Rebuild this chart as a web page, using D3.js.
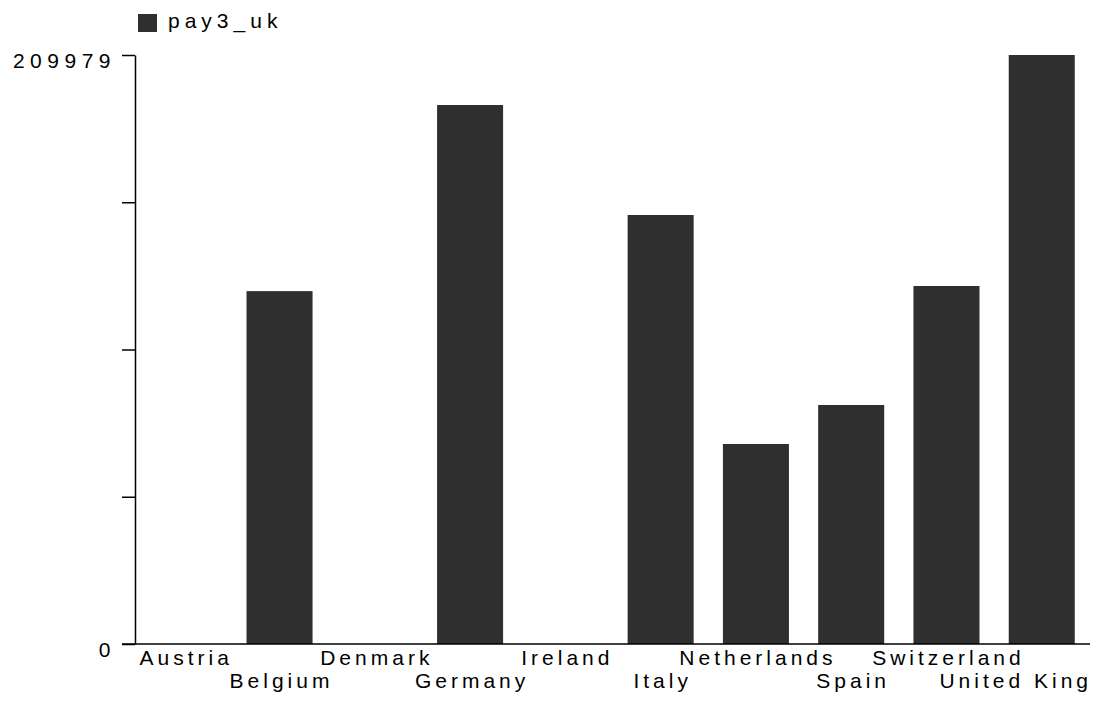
<!DOCTYPE html>
<head>
    <meta charset="utf-8">
    <script src="https://cdnjs.cloudflare.com/ajax/libs/d3/7.8.5/d3.min.js" charset="utf-8"></script>
    <style>
        html, body {
            margin: 0px;
            padding: 0px;
            background: #fff;
        }
        svg {
            display: block;
        }
        text {
            font-family: "Liberation Sans", Arial, sans-serif;
            font-size: 21px;
            fill: #000;
        }
    </style>
</head>

<body>
<svg id="chart" width="1100" height="704"></svg>

<script>
var categories = ["Austria", "Belgium", "Denmark", "Germany", "Ireland",
                  "Italy", "Netherlands", "Spain", "Switzerland", "United King"];
var pay3_uk = [0, 125800, 0, 192150, 0, 152940, 71300, 85200, 127630, 209979];
var seriesName = "pay3_uk";
var yMax = 209979;
var yTickValues = [0, 52495, 104990, 157484, 209979];
var yTickLabels = ["0", "", "", "", "209979"];

var svg = d3.select("#chart");
var barColor = "#2f2f2f";
var rightEdge = 1090;

var x = d3.scaleBand()
    .domain(categories)
    .range([136, rightEdge])
    .paddingInner(0.307)
    .paddingOuter(0.16);

var y = d3.scaleLinear()
    .domain([0, yMax])
    .range([644, 55]);

// bars
svg.append("g").selectAll("rect")
    .data(categories)
    .enter().append("rect")
    .attr("x", function(d) { return x(d); })
    .attr("width", x.bandwidth())
    .attr("y", function(d, i) { return y(pay3_uk[i]); })
    .attr("height", function(d, i) { return y(0) - y(pay3_uk[i]); })
    .attr("fill", barColor);

// y axis - only the end ticks carry labels
var yAxis = d3.axisLeft(y)
    .tickValues(yTickValues)
    .tickSize(13)
    .tickSizeOuter(0)
    .tickFormat(function(d, i) { return yTickLabels[i]; });

var gy = svg.append("g")
    .attr("transform", "translate(135,0)")
    .call(yAxis);
gy.select(".domain").attr("stroke", "#000").attr("stroke-width", 1.5);
gy.selectAll(".tick line").attr("stroke", "#000").attr("stroke-width", 1.5);
gy.selectAll(".tick text")
    .attr("x", -19)
    .attr("dy", "0.6em")
    .style("font-family", "'Liberation Sans', Arial, sans-serif")
    .style("font-size", "21px")
    .style("letter-spacing", "5.5px");

// baseline
svg.append("line")
    .attr("x1", 122).attr("x2", rightEdge)
    .attr("y1", y(0)).attr("y2", y(0))
    .attr("stroke", "#000")
    .attr("stroke-width", 1.5);

// x labels, staggered on two rows, kept inside the right edge
var ls = 4;
svg.append("g").selectAll("text")
    .data(categories)
    .enter().append("text")
    .attr("y", function(d, i) { return i % 2 === 0 ? 665 : 688; })
    .style("letter-spacing", ls + "px")
    .text(function(d) { return d; })
    .attr("x", function(d) {
        var w = this.getComputedTextLength() - ls;
        var left = x(d) + x.bandwidth() / 2 - w / 2;
        if (left + w > rightEdge - 2) left = rightEdge - 2 - w;
        return left;
    });

// legend
var legend = svg.append("g");
legend.append("rect")
    .attr("x", 138).attr("y", 14)
    .attr("width", 19).attr("height", 18)
    .attr("fill", barColor);
legend.append("text")
    .attr("x", 168).attr("y", 28)
    .style("letter-spacing", "5px")
    .text(seriesName);
</script>

</body>
</html>
